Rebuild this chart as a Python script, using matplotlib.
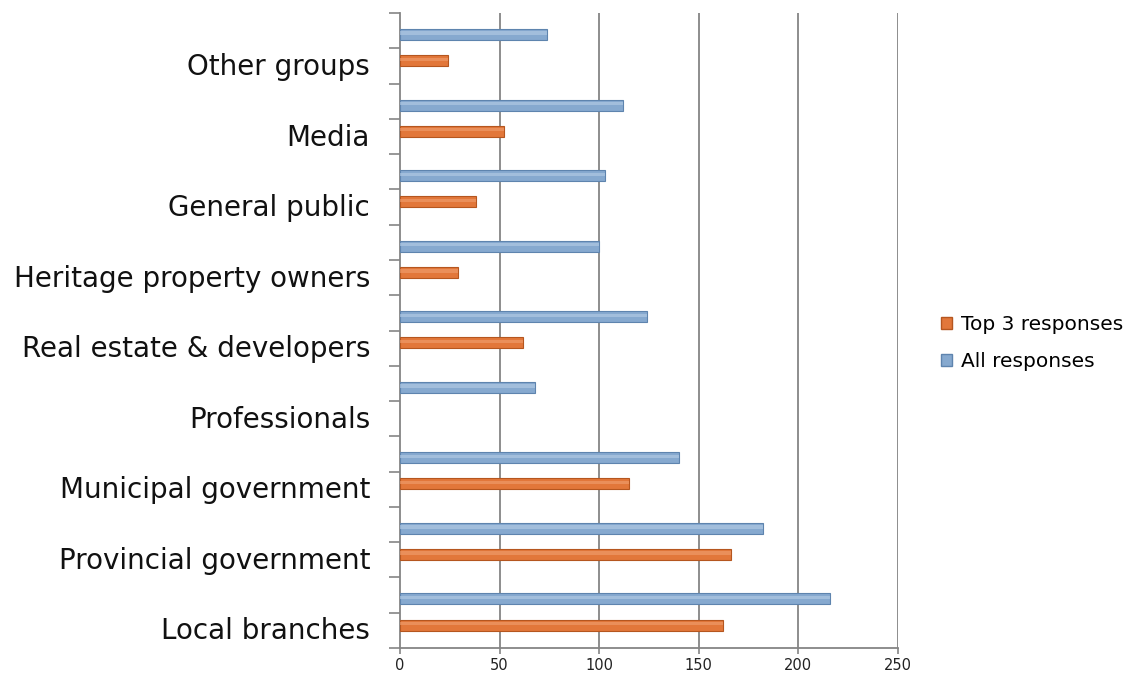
import matplotlib.pyplot as plt
import numpy as np
from matplotlib.patches import Patch

# categories listed bottom to top
categories = [
    "Local branches",
    "Provincial government",
    "Municipal government",
    "Professionals",
    "Real estate & developers",
    "Heritage property owners",
    "General public",
    "Media",
    "Other groups",
]
top3 = [162, 166, 115, 0, 62, 29, 38, 52, 24]
all_resp = [216, 182, 140, 68, 124, 100, 103, 112, 74]
x_ticks = [0, 50, 100, 150, 200, 250]

BLUE = "#86A9CF"
BLUE_EDGE = "#5E84AE"
ORANGE = "#E2773A"
ORANGE_EDGE = "#B5561F"
GRID = "#858585"

plt.rcParams["font.family"] = ["DejaVu Sans"]

fig = plt.figure(figsize=(11.45, 6.75), dpi=100)
ax = fig.add_axes([0.3493, 0.04, 0.435, 0.9407])

n = len(categories)
base = np.arange(n) * 2.0
bar_h = 0.31

# no outline on empty bars
orange_edges = [ORANGE_EDGE if v > 0 else "none" for v in top3]

ax.barh(base + 0.65, top3, height=bar_h, color=ORANGE, edgecolor=orange_edges,
        linewidth=0.8, zorder=3)
ax.barh(base + 1.39, all_resp, height=bar_h, color=BLUE, edgecolor=BLUE_EDGE,
        linewidth=0.8, zorder=3)
# light highlight stripe to mimic the bevelled look
ax.barh(base + 0.69, top3, height=bar_h * 0.3, color="#F0A070", linewidth=0,
        zorder=4, alpha=0.6)
ax.barh(base + 1.43, all_resp, height=bar_h * 0.3, color="#B5CDE6", linewidth=0,
        zorder=4, alpha=0.6)

ax.set_xlim(0, 250)
ax.set_ylim(0, 2 * n)
ax.set_xticks(x_ticks)
ax.set_xticklabels([str(v) for v in x_ticks], fontsize=10.5, color="#222222")
ax.set_yticks(np.arange(0, 2 * n + 1))
ax.set_yticklabels([])
ax.tick_params(axis="y", direction="out", length=8, width=1.2, color=GRID)
ax.tick_params(axis="x", direction="out", length=4, width=1.2, color=GRID, pad=3)

for v in x_ticks[1:]:
    ax.axvline(v, color=GRID, linewidth=1.3, zorder=1)

for side in ["top", "right"]:
    ax.spines[side].set_visible(False)
ax.spines["left"].set_color(GRID)
ax.spines["left"].set_linewidth(1.3)
ax.spines["bottom"].set_color(GRID)
ax.spines["bottom"].set_linewidth(1.3)

for i, name in enumerate(categories):
    ax.text(-15, base[i] + 0.47, name, ha="right", va="center", fontsize=20,
            color="#111111")

handles = [
    Patch(facecolor=ORANGE, edgecolor=ORANGE_EDGE, label="Top 3 responses"),
    Patch(facecolor=BLUE, edgecolor=BLUE_EDGE, label="All responses"),
]
fig.legend(handles=handles, loc="center left", bbox_to_anchor=(0.806, 0.492),
           frameon=False, fontsize=14.5, handlelength=0.55, handleheight=0.55,
           handletextpad=0.45, labelspacing=0.9)

fig.savefig("out.png", dpi=100)
